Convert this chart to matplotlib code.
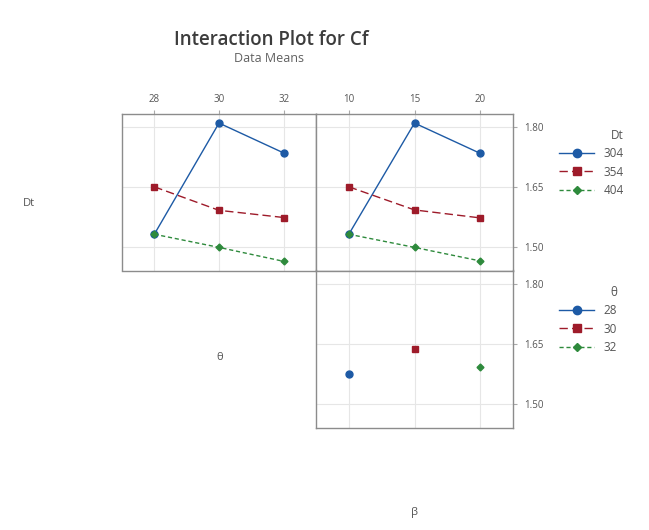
import matplotlib
matplotlib.use("Agg")
import matplotlib.pyplot as plt
from matplotlib.lines import Line2D

plt.rcParams["font.family"] = ["Open Sans", "DejaVu Sans"]

# factor levels
theta_levels = [28, 30, 32]
beta_levels = [10, 15, 20]
dt_labels = ["304", "354", "404"]
theta_labels = ["28", "30", "32"]

# Cf means, lines by Dt (x = theta)
cf_dt304_theta = [1.531, 1.810, 1.735]
cf_dt354_theta = [1.650, 1.591, 1.573]
cf_dt404_theta = [1.531, 1.498, 1.463]

# Cf means, lines by Dt (x = beta)
cf_dt304_beta = [1.531, 1.810, 1.734]
cf_dt354_beta = [1.650, 1.592, 1.572]
cf_dt404_beta = [1.531, 1.498, 1.464]

# Cf means, lines by theta (x = beta) - one cell per theta level
cf_theta_beta = [1.574, 1.637, 1.593]

y_ticks = [1.50, 1.65, 1.80]

colors = ["#1d5aa5", "#9e1b2a", "#2e8a3c"]
markers = ["o", "s", "D"]
msizes = [5.0, 4.6, 3.5]
styles = ["-", (0, (6, 3)), (0, (3, 2))]
grey = "#555555"

fig = plt.figure(figsize=(6.49, 5.30), dpi=100)

W, H = 649, 530


def box(x0, y0, x1, y1):
    return [x0 / W, 1 - y1 / H, (x1 - x0) / W, (y1 - y0) / H]


ax_l = fig.add_axes(box(122, 113.5, 316, 270.5))
ax_r = fig.add_axes(box(316, 113.5, 513, 270.5))
ax_b = fig.add_axes(box(316, 270.5, 513, 428))


def style(ax, xticks, xlim, top_labels, right_labels):
    ax.set_xlim(*xlim)
    ax.set_ylim(1.44, 1.834)
    ax.set_xticks(xticks)
    ax.set_yticks(y_ticks)
    ax.grid(True, color="#e6e6e6", lw=0.8)
    ax.set_axisbelow(True)
    for s in ax.spines.values():
        s.set_color("#8c8c8c")
        s.set_linewidth(1.0)
    ax.tick_params(axis="x", top=top_labels, labeltop=top_labels,
                   bottom=False, labelbottom=False, length=3,
                   color="#aaaaaa", labelsize=7, labelcolor=grey, pad=3)
    ax.tick_params(axis="y", left=False, labelleft=False,
                   right=right_labels, labelright=right_labels, length=3,
                   color="#aaaaaa", labelsize=7, labelcolor=grey, pad=5)
    ax.yaxis.set_major_formatter(plt.FormatStrFormatter("%.2f"))


style(ax_l, theta_levels, (27, 33), True, False)
style(ax_r, beta_levels, (7.5, 22.5), True, True)
style(ax_b, beta_levels, (7.5, 22.5), False, True)

for ax, xs, series in [
    (ax_l, theta_levels, [cf_dt304_theta, cf_dt354_theta, cf_dt404_theta]),
    (ax_r, beta_levels, [cf_dt304_beta, cf_dt354_beta, cf_dt404_beta]),
]:
    for ys, c, m, ms, ls in zip(series, colors, markers, msizes, styles):
        ax.plot(xs, ys, color=c, marker=m, ms=ms, ls=ls, lw=1.0)

for x, y, c, m, ms in zip(beta_levels, cf_theta_beta, colors, markers, msizes):
    ax_b.plot([x], [y], color=c, marker=m, ms=ms, ls="none")

# titles
fig.text(271 / W, 1 - 40 / H, "Interaction Plot for Cf", ha="center",
         va="center", fontsize=13.5, fontweight="semibold", color="#3c3c3c")
fig.text(269 / W, 1 - 59 / H, "Data Means", ha="center", va="center",
         fontsize=9, color="#606060")

# factor names
fig.text(29 / W, 1 - 204 / H, "Dt", ha="center", va="center",
         fontsize=8, color=grey)
fig.text(220 / W, 1 - 358 / H, "θ", ha="center", va="center",
         fontsize=8, color=grey)
fig.text(414 / W, 1 - 512 / H, "β", ha="center", va="center",
         fontsize=8, color=grey)


def handles():
    return [Line2D([], [], color=c, marker=m, ms=ms * 1.2, ls=ls, lw=1.0)
            for c, m, ms, ls in zip(colors, markers, msizes, styles)]


for labels, title, top in [(dt_labels, "Dt", 123), (theta_labels, "θ", 280)]:
    leg = fig.legend(handles(), labels, title=title, loc="upper left",
                     bbox_to_anchor=(553 / W, 1 - top / H), frameon=False,
                     fontsize=8.5, title_fontsize=8.5, borderpad=0,
                     handlelength=3.0, handletextpad=0.8, labelspacing=0.45,
                     alignment="right")
    for t in leg.get_texts():
        t.set_color(grey)
    leg.get_title().set_color(grey)

fig.savefig("out.png", dpi=100)
